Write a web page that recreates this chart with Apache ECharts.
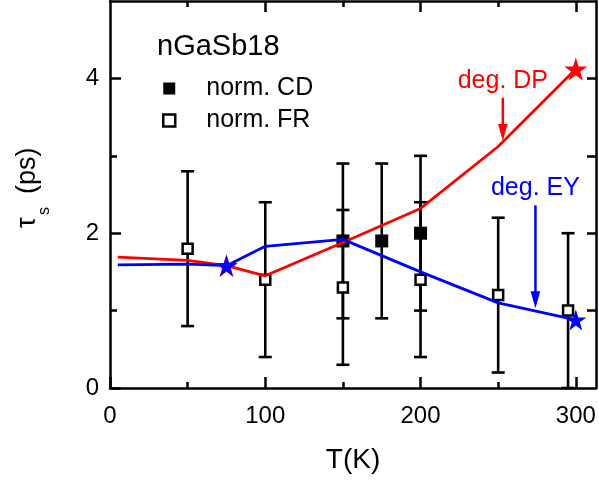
<!DOCTYPE html>
<html><head><meta charset="utf-8">
<script src="https://cdn.jsdelivr.net/npm/echarts@6/dist/echarts.min.js"></script>
<style>html,body{margin:0;padding:0;background:#fff}#c{width:599px;height:482px}</style>
</head><body><div id="c"></div>
<script>
// ---- data ----
const xTicksMajor = [0, 100, 200, 300];
const xTicksMinor = [50, 150, 250];
const xTopMajor = [100, 200, 300];
const yTicksMajor = [0, 2, 4];
const yTicksMinor = [1, 3];
const yRightTicks = [1, 2, 3, 4];

const lineT  = [5, 50, 75, 100, 150, 200, 250, 300];
const dpVals = [1.69, 1.65, 1.58, 1.45, 1.88, 2.32, 3.12, 4.12];
const eyVals = [1.59, 1.60, 1.58, 1.83, 1.92, 1.50, 1.10, 0.88];

const starT  = [75, 300];
const dpStar = [1.58, 4.12];
const eyStar = [1.58, 0.88];

const frT    = [50, 100, 150, 200, 250, 295];
const frVals = [1.8, 1.4, 1.3, 1.4, 1.2, 1.0];
const frErr  = [1.0, 1.0, 1.0, 1.0, 1.0, 1.0];

const cdT    = [150, 175, 200];
const cdVals = [1.9, 1.9, 2.0];
const cdErr  = [1.0, 1.0, 1.0];

const annoLabels = ['deg. DP', 'deg. EY'];
const annoT      = [253, 274];
const annoTextV  = [3.97, 2.58];
const annoFromV  = [3.75, 2.36];
const annoToV    = [3.19, 1.03];
const annoColors = ['#ff0000', '#0000ff'];

// ---- chart ----
const FONT = '"Liberation Sans", Arial, Helvetica, sans-serif';
const STAR = 'path://M50,0 L61.8,35.3 L99,35.3 L68.8,57.1 L80.2,92.5 L50,70.6 L19.8,92.5 L31.2,57.1 L1,35.3 L38.2,35.3 Z';
const zip = (a, b) => a.map((v, i) => [v, b[i]]);
const zip3 = (a, b, c) => a.map((v, i) => [v, b[i], c[i]]);
const black = {color: '#000', width: 2.5};

function errItem(params, api) {
  const x = api.value(0), y = api.value(1), e = api.value(2);
  const t = api.coord([x, y + e]), b = api.coord([x, y - e]);
  const hw = 6.5;
  const st = {stroke: '#000', lineWidth: 2.6};
  return {type: 'group', children: [
    {type: 'line', shape: {x1: t[0], y1: t[1], x2: b[0], y2: b[1]}, style: st},
    {type: 'line', shape: {x1: t[0] - hw, y1: t[1], x2: t[0] + hw, y2: t[1]}, style: st},
    {type: 'line', shape: {x1: b[0] - hw, y1: b[1], x2: b[0] + hw, y2: b[1]}, style: st}
  ]};
}

const baseX = {type: 'value', min: 0, max: 313, splitLine: {show: false}};
const baseY = {type: 'value', min: 0, max: 5, splitLine: {show: false}};

const chart = echarts.init(document.getElementById('c'), null, {renderer: 'canvas'});
const option = {
  animation: false,
  backgroundColor: '#fff',
  textStyle: {fontFamily: FONT},
  grid: {left: 110, right: 3, top: 1, bottom: 94},
  title: {text: 'nGaSb18', left: 157, top: 32, padding: 0,
    textStyle: {fontSize: 29, fontWeight: 'normal', color: '#000', fontFamily: FONT}},
  legend: {
    left: 162, top: 76, padding: 0, orient: 'vertical', selectedMode: false,
    itemWidth: 12, itemHeight: 12, itemGap: 7, icon: 'rect',
    textStyle: {fontSize: 25, color: '#000', fontFamily: FONT, padding: [0, 0, 0, 26], lineHeight: 24},
    data: [
      {name: 'norm. CD', itemStyle: {color: '#000', borderWidth: 0, opacity: 1}},
      {name: 'norm. FR', itemStyle: {color: '#fff', borderColor: '#000', borderWidth: 2.5, opacity: 1}}
    ]
  },
  xAxis: [
    Object.assign({}, baseX, {position: 'bottom',
      axisLine: {show: true, onZero: false, lineStyle: black},
      axisTick: {show: true, inside: true, length: 11, lineStyle: black, customValues: xTicksMajor},
      axisLabel: {show: true, customValues: xTicksMajor, fontSize: 24, color: '#000', margin: 16, fontFamily: FONT},
      name: 'T(K)', nameLocation: 'middle', nameGap: 58,
      nameTextStyle: {fontSize: 28, color: '#000', fontFamily: FONT}}),
    Object.assign({}, baseX, {position: 'bottom',
      axisLine: {show: false, onZero: false},
      axisTick: {show: true, inside: true, length: 6, lineStyle: black, customValues: xTicksMinor},
      axisLabel: {show: false}}),
    Object.assign({}, baseX, {position: 'top',
      axisLine: {show: true, onZero: false, lineStyle: black},
      axisTick: {show: true, inside: true, length: 11, lineStyle: black, customValues: xTopMajor},
      axisLabel: {show: false}}),
    Object.assign({}, baseX, {position: 'top',
      axisLine: {show: false, onZero: false},
      axisTick: {show: true, inside: true, length: 6, lineStyle: black, customValues: xTicksMinor},
      axisLabel: {show: false}})
  ],
  yAxis: [
    Object.assign({}, baseY, {position: 'left',
      axisLine: {show: true, onZero: false, lineStyle: black},
      axisTick: {show: true, inside: true, length: 11, lineStyle: black, customValues: yTicksMajor},
      axisLabel: {show: true, customValues: yTicksMajor, fontSize: 24, color: '#000', margin: 11, fontFamily: FONT}}),
    Object.assign({}, baseY, {position: 'left',
      axisLine: {show: false, onZero: false},
      axisTick: {show: true, inside: true, length: 7, lineStyle: black, customValues: yTicksMinor},
      axisLabel: {show: false}}),
    Object.assign({}, baseY, {position: 'right',
      axisLine: {show: true, onZero: false, lineStyle: black},
      axisTick: {show: true, inside: true, length: 9, lineStyle: black, customValues: yRightTicks},
      axisLabel: {show: false}})
  ],
  series: [
    {name: 'errFR', type: 'custom', renderItem: errItem, data: zip3(frT, frVals, frErr), z: 1, clip: false},
    {name: 'errCD', type: 'custom', renderItem: errItem, data: zip3(cdT, cdVals, cdErr), z: 1, clip: false},
    {name: 'norm. CD', type: 'scatter', data: zip(cdT, cdVals), symbol: 'rect', symbolSize: 13,
      itemStyle: {color: '#000', opacity: 1}, z: 2},
    {name: 'norm. FR', type: 'scatter', data: zip(frT, frVals), symbol: 'rect', symbolSize: 10,
      itemStyle: {color: '#fff', borderColor: '#000', borderWidth: 2.5, opacity: 1}, z: 2},
    {name: 'DP', type: 'line', data: zip(lineT, dpVals), showSymbol: false, symbol: 'none',
      lineStyle: {color: '#ff0000', width: 2.8}, z: 3},
    {name: 'EY', type: 'line', data: zip(lineT, eyVals), showSymbol: false, symbol: 'none',
      lineStyle: {color: '#0000ff', width: 2.8}, z: 3},
    {name: 'DPstar', type: 'scatter', data: zip(starT, dpStar), symbol: STAR, symbolSize: 23,
      itemStyle: {color: '#ff0000', opacity: 1}, z: 4},
    {name: 'EYstar', type: 'scatter', data: zip(starT, eyStar), symbol: STAR, symbolSize: 21,
      itemStyle: {color: '#0000ff', opacity: 1}, z: 5}
  ]
};
chart.setOption(option);

// ---- annotations placed through the axes' own scales ----
const graphics = [];
annoLabels.forEach((txt, i) => {
  const c = annoColors[i];
  const tp = chart.convertToPixel({xAxisIndex: 0, yAxisIndex: 0}, [annoT[i], annoTextV[i]]);
  const f = chart.convertToPixel({xAxisIndex: 0, yAxisIndex: 0}, [annoT[i], annoFromV[i]]);
  const t = chart.convertToPixel({xAxisIndex: 0, yAxisIndex: 0}, [annoT[i], annoToV[i]]);
  graphics.push({type: 'text', x: tp[0], y: tp[1], z: 10,
    style: {text: txt, fill: c, fontSize: 25, fontFamily: FONT, align: 'center', verticalAlign: 'middle'}});
  const hl = 17, hw = 4.8;
  graphics.push({type: 'line', z: 10, shape: {x1: f[0], y1: f[1], x2: t[0], y2: t[1] - hl + 2},
    style: {stroke: c, lineWidth: 2.5}});
  graphics.push({type: 'polygon', z: 10,
    shape: {points: [[t[0] - hw, t[1] - hl], [t[0] + hw, t[1] - hl], [t[0], t[1]]]},
    style: {fill: c}});
});
// y-axis title: tau with subscript s, rotated
graphics.push({type: 'group', x: 28, y: 187, rotation: Math.PI / 2, children: [
  {type: 'text', x: -41, y: 0, style: {text: 'τ', fill: '#000', fontSize: 27, fontFamily: FONT, align: 'left', verticalAlign: 'middle'}},
  {type: 'text', x: -28, y: 17, style: {text: 's', fill: '#000', fontSize: 16, fontFamily: FONT, align: 'left', verticalAlign: 'middle'}},
  {type: 'text', x: -7, y: 0, style: {text: '(ps)', fill: '#000', fontSize: 27, fontFamily: FONT, align: 'left', verticalAlign: 'middle'}}
]});
chart.setOption({graphic: graphics});
</script>
</body></html>
